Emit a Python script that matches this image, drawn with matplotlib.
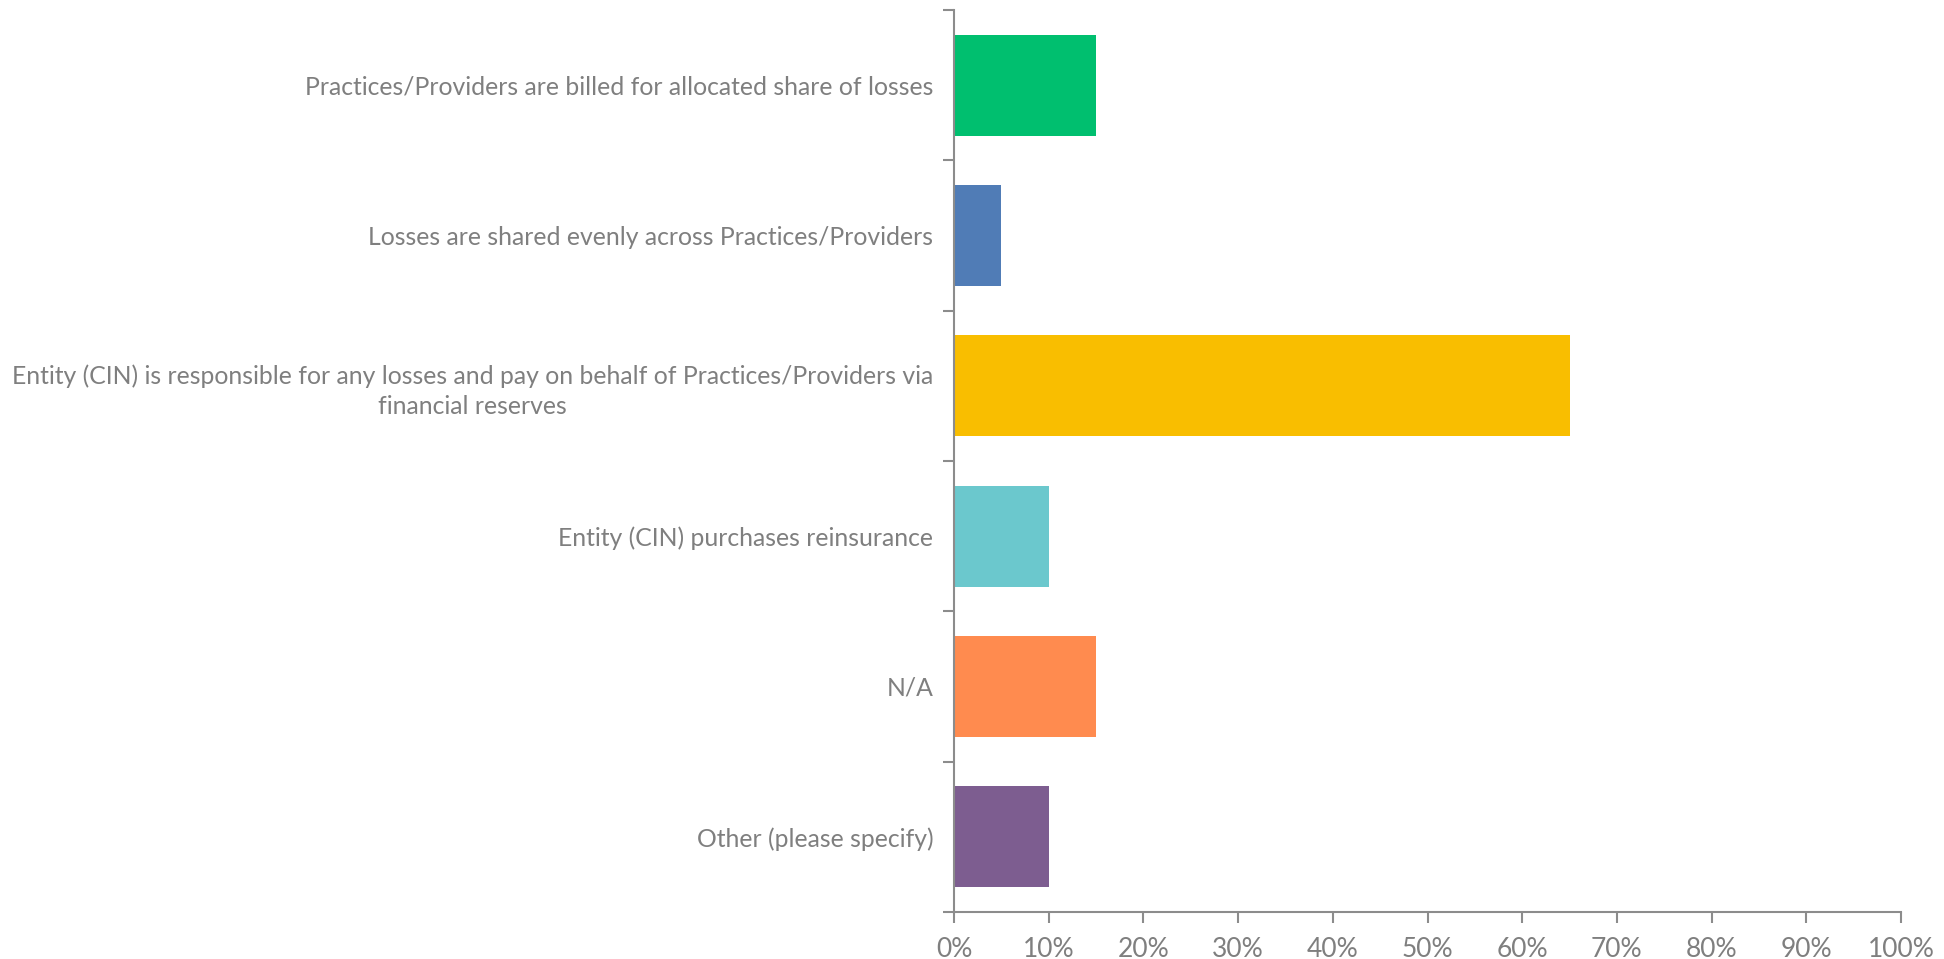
import matplotlib.pyplot as plt
import numpy as np

# Data (top to bottom)
categories = [
    'Practices/Providers are billed for allocated share of losses',
    'Losses are shared evenly across Practices/Providers',
    'Entity (CIN) is responsible for any losses and pay on behalf of Practices/Providers via\nfinancial reserves',
    'Entity (CIN) purchases reinsurance',
    'N/A',
    'Other (please specify)',
]
values = [0.15, 0.05, 0.65, 0.10, 0.15, 0.10]
colors = ['#00BF6F', '#507CB6', '#F9BE00', '#6BC8CD', '#FF8B4F', '#7D5D90']

grey = '#7F7F7F'
axis_grey = '#8C8C8C'
plt.rcParams['font.family'] = ['Lato', 'DejaVu Sans']

fig = plt.figure(figsize=(19.44, 9.59), dpi=100)
ax = fig.add_axes([954 / 1944, 1 - 912 / 959, (1901 - 954) / 1944, (912 - 10) / 959])

y = np.arange(len(categories))
ax.barh(y, values, height=0.67, color=colors)

ax.set_xlim(0, 1)
ax.set_ylim(len(categories) - 0.5, -0.5)
ax.set_xticks(np.arange(0, 1.01, 0.1))
ax.set_xticklabels([f'{int(round(v * 100))}%' for v in np.arange(0, 1.01, 0.1)])

ax.set_yticks(y)
ax.set_yticklabels(categories, linespacing=1.35)
for lab in ax.get_yticklabels():
    lab.set_multialignment('center')
ax.set_yticks(np.arange(-0.5, len(categories), 1), minor=True)

ax.tick_params(axis='y', which='major', length=0, pad=15, labelsize=17.8, labelcolor=grey)
ax.tick_params(axis='y', which='minor', length=8, width=1.5, color=axis_grey)
ax.tick_params(axis='x', length=8, width=1.5, color=axis_grey, pad=10, labelsize=19, labelcolor=grey)

for side in ['top', 'right']:
    ax.spines[side].set_visible(False)
for side in ['left', 'bottom']:
    ax.spines[side].set_color(axis_grey)
    ax.spines[side].set_linewidth(1.5)

plt.savefig('out.png', dpi=100)
